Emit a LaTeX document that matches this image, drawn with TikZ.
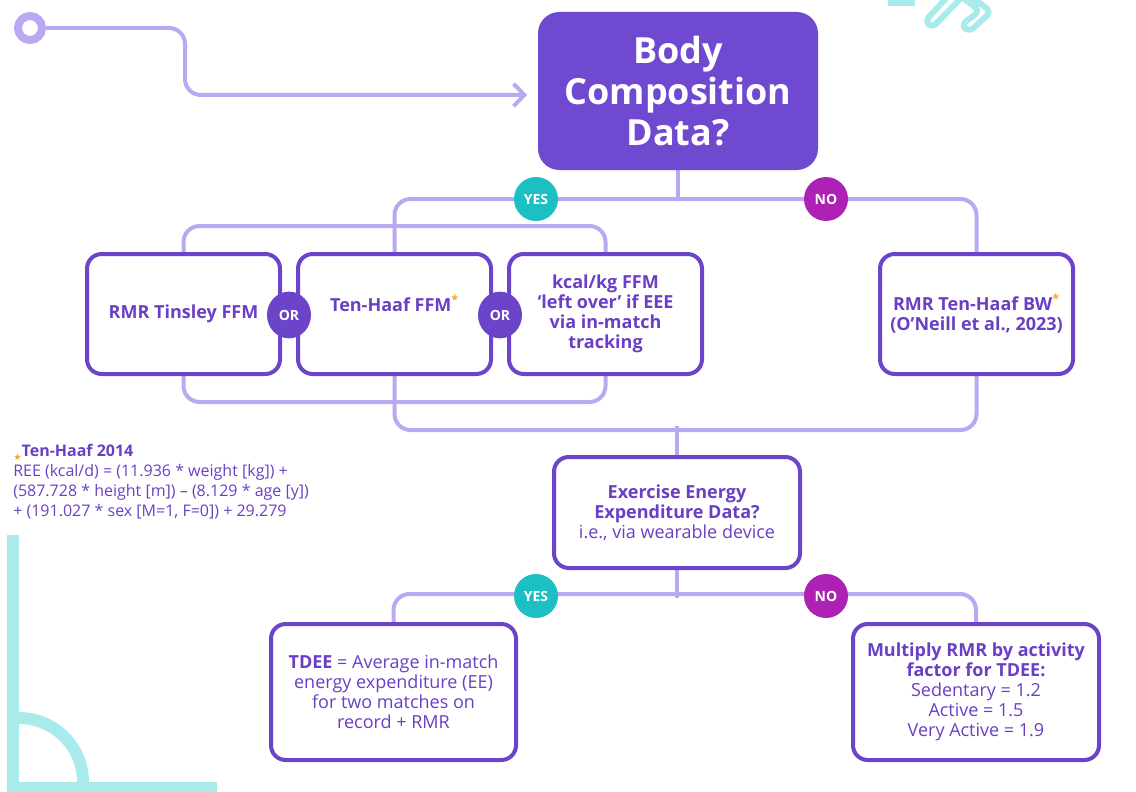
\documentclass[tikz,border=0pt]{standalone}
\usepackage{fontspec}
\setmainfont{Open Sans}
\newfontfamily\dejavu{DejaVu Sans}
\usetikzlibrary{shapes.geometric,backgrounds,calc,arrows.meta}
\definecolor{boxc}{HTML}{6B44C9}
\definecolor{bodyc}{HTML}{7049D1}
\definecolor{linec}{HTML}{BBA8F2}
\definecolor{txtc}{HTML}{6A3FC6}
\definecolor{yesc}{HTML}{1CC0C2}
\definecolor{noc}{HTML}{AD22B5}
\definecolor{tealc}{HTML}{A9EAEA}
\definecolor{starc}{HTML}{F2A531}
\newcommand{\ostar}{\textsuperscript{\color{starc}*}}
\begin{document}
\begin{tikzpicture}[x=0.75pt,y=-0.75pt,
  conn/.style={draw=linec, line width=3pt},
  rbox/.style n args={2}{draw=boxc, line width=3pt, fill=white, rounded corners=11pt,
     minimum width=#1*0.75pt, minimum height=#2*0.75pt, inner sep=0pt},
  btxt/.style={text=txtc, align=center, font=\fontsize{13.5}{15}\selectfont\bfseries},
  rtxt/.style={text=txtc, align=center, font=\fontsize{13.5}{15}\selectfont},
  yesno/.style={circle, fill=#1, text=white, minimum size=33pt, inner sep=0pt,
     font=\fontsize{10.5}{11}\selectfont\bfseries},
  orc/.style={ellipse, fill=boxc, text=white, minimum width=33pt, minimum height=35pt, inner sep=0pt,
     font=\fontsize{10.5}{11}\selectfont\bfseries},
  deco/.style={draw=tealc, line width=9pt},
  deco2/.style={draw=tealc, line width=4.5pt, rounded corners=4pt, line join=round}
]
\useasboundingbox (0,0) rectangle (1136,792);

% decorations
\draw[deco] (13,535) -- (13,800);
\draw[deco] (7,788) -- (217,788);
\draw[deco] (83,782) arc[start angle=0, end angle=-90, radius=64];
\draw[draw=tealc, line width=5.25pt] (888,3) -- (915,3);
\draw[deco2] (952,-8) -- (925,21) -- (932,28) -- (962,-3);
\draw[deco2] (966,-8) -- (991,12) -- (969,32) -- (961,25) -- (980,11) -- (958,-6);

% nodes
\node[circle, draw=linec, line width=6pt, fill=white, minimum size=18pt, inner sep=0pt] (start) at (30,28) {};
\node[fill=bodyc, rounded corners=16pt, minimum width=280*0.75pt, minimum height=158*0.75pt,
      text=white, align=center, font=\fontsize{27}{31}\selectfont\bfseries] (body) at (678,91)
      {Body\\Composition\\Data?};
\coordinate (arrowend) at (527,95);

\node[rbox={193}{120}, btxt] (b1) at (183.5,314) {RMR Tinsley FFM};
\node[rbox={193}{120}] (b2) at (394.5,314) {};
\node[btxt] (b2t) at (394.5,303) {Ten-Haaf FFM\ostar};
\node[rbox={193}{120}, btxt] (b3) at (605.5,314) {kcal/kg FFM\\`left over' if EEE\\via in-match\\tracking};
\node[rbox={193}{120}, btxt] (b4) at (976.5,314) {RMR Ten-Haaf BW\ostar\\(O’Neill et al., 2023)};

\node[rbox={246}{111}, rtxt] (b5) at (677,512.5) {\textbf{Exercise Energy}\\\textbf{Expenditure Data?}\\i.e., via wearable device};
\node[rbox={245}{136}, rtxt] (b6) at (393.5,692) {\textbf{TDEE} = Average in-match\\energy expenditure (EE)\\for two matches on\\record + RMR};
\node[rbox={246}{136}, rtxt] (b7) at (976,692) {\textbf{Multiply RMR by activity}\\\textbf{factor for TDEE:}\\Sedentary = 1.2\\Active = 1.5\\Very Active = 1.9};

\node[yesno=yesc] (yes1) at (536,199) {YES};
\node[yesno=noc] (no1) at (826,199) {NO};
\node[yesno=yesc] (yes2) at (536,596) {YES};
\node[yesno=noc] (no2) at (826,596) {NO};
\node[orc] (or1) at (289,315) {OR};
\node[orc] (or2) at (500,315) {OR};

\node[anchor=north west, align=left, text=txtc, font=\fontsize{12}{15}\selectfont, inner sep=0pt] (note) at (13,444)
  {{\color{starc}\dejavu\raisebox{-3pt}{\fontsize{7}{7}\selectfont ★}}\textbf{Ten-Haaf 2014}\\
   REE (kcal/d) = (11.936 * weight [kg]) +\\
   (587.728 * height [m]) – (8.129 * age [y])\\
   + (191.027 * sex [M=1, F=0]) + 29.279};

% connectors
\begin{pgfonlayer}{background}
\draw[conn, rounded corners=12pt, -{Straight Barb[length=8pt,width=17pt]}] (start.east) -- (185,28) |- (arrowend);
\draw[conn] (body.south) -- (body.south |- yes1);
\draw[conn, rounded corners=12pt] (b2.north) -- (b2.north |- yes1) -| (b4.north);
\draw[conn, rounded corners=12pt] (b1.north) -- ++(0,-26) -| (b3.north);
\draw[conn, rounded corners=12pt] (b1.south) -- ++(0,26) -| (b3.south);
\draw[conn, rounded corners=12pt] (b2.south) -- ++(0,54) -| (b4.south);
\draw[conn] (b5.north) -- ++(0,-29);
\draw[conn] (b5.south) -- ++(0,28);
\draw[conn, rounded corners=12pt] (b6.north) -- ++(0,-28) -| (b7.north);
\end{pgfonlayer}
\end{tikzpicture}
\end{document}
